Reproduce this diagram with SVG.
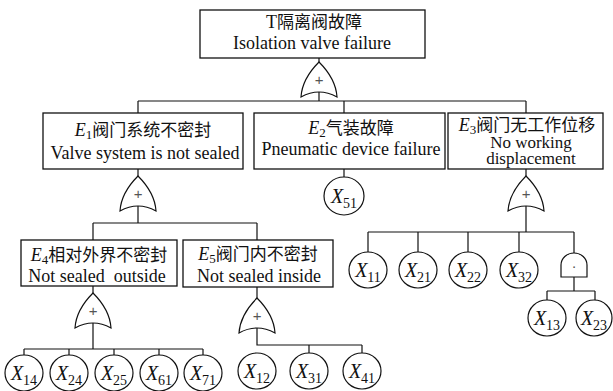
<svg xmlns="http://www.w3.org/2000/svg" xmlns:xlink="http://www.w3.org/1999/xlink" width="613" height="391" viewBox="0 0 613 391">
<style>
.box{fill:#fff;stroke:#111;stroke-width:1.3}
.gate{fill:#fff;stroke:#111;stroke-width:1.2}
.leaf{fill:#fff;stroke:#111;stroke-width:1.2}
.conn{fill:none;stroke:#111;stroke-width:1.2}
.t{font-family:"Liberation Serif","Noto Sans CJK SC",serif;font-size:18px;fill:#111;text-anchor:middle}
.t2{font-size:17px}
.cn{font-family:"Noto Sans CJK SC","Liberation Serif",sans-serif;font-size:17px}
.i{font-style:italic}
.sub{font-size:13px}
.x{font-family:"Liberation Serif",serif;font-size:20px;fill:#111;text-anchor:middle}
.xs{font-size:14px;font-style:normal}
.plus{font-family:"Liberation Sans",sans-serif;font-size:15px;fill:#555;text-anchor:middle}
</style>
<defs>
<g id="or">
<path class="gate" d="M-18,35 C-17,19 -8,8 0,0 C8,8 17,19 18,35 Q0,25 -18,35 Z"/>
<text class="plus" x="0" y="23">+</text>
</g>
</defs>
<rect width="613" height="391" fill="#fff"/>
<g id="connectors" class="conn">
<path d="M319,58 V62 M319,91 V101 M138,101 H526 M138,101 V113 M344,101 V113 M526,101 V113"/>
<path d="M138,169 V176 M138,206 V223 M93,223 H257 M93,223 V240 M257,223 V240"/>
<path d="M93,286 V293 M93,323 V349 M24,349 H203 M24,349 V355 M69,349 V355 M114,349 V355 M159,349 V355 M203,349 V355"/>
<path d="M257,287 V298 M257,328 V345 H362 M309,345 V353 M362,345 V353"/>
<path d="M344,169 V177"/>
<path d="M526,169 V176 M526,206 V232 M368,232 H574 M368,232 V252 M418,232 V252 M468,232 V252 M519,232 V252 M574,232 V253"/>
<path d="M574,277 V291 M547,291 H595 M547,291 V300 M595,291 V300"/>
</g>
<g id="T">
<rect class="box" x="200" y="10" width="225" height="48"/>
<text class="t" x="314" y="28">T<tspan class="cn">隔离阀故障</tspan></text>
<text class="t" x="312" y="49">Isolation valve failure</text>
</g>
<g id="G0"><use xlink:href="#or" x="319" y="62"/></g>
<g id="E1">
<rect class="box" x="43" y="113" width="200" height="56"/>
<text class="t" x="143" y="136"><tspan class="i">E</tspan><tspan class="sub" dy="3">1</tspan><tspan class="cn" dy="-3">阀门系统不密封</tspan></text>
<text class="t" x="145" y="159">Valve system is not sealed</text>
</g>
<g id="E2">
<rect class="box" x="254" y="113" width="191" height="56"/>
<text class="t" x="351" y="134"><tspan class="i">E</tspan><tspan class="sub" dy="3">2</tspan><tspan class="cn" dy="-3">气装故障</tspan></text>
<text class="t" x="351" y="155">Pneumatic device failure</text>
</g>
<g id="E3">
<rect class="box" x="448" y="113" width="155" height="56"/>
<text class="t" x="527" y="131"><tspan class="i">E</tspan><tspan class="sub" dy="3">3</tspan><tspan class="cn" dy="-3">阀门无工作位移</tspan></text>
<text class="t t2" x="531" y="148">No working</text>
<text class="t t2" x="531" y="164">displacement</text>
</g>
<g id="G1"><use xlink:href="#or" x="138" y="176"/></g>
<g id="G3"><use xlink:href="#or" x="526" y="176"/></g>
<g id="E4">
<rect class="box" x="21" y="240" width="156" height="46"/>
<text class="t" x="99" y="261"><tspan class="i">E</tspan><tspan class="sub" dy="3">4</tspan><tspan class="cn" dy="-3">相对外界不密封</tspan></text>
<text class="t" x="97" y="282" xml:space="preserve">Not sealed  outside</text>
</g>
<g id="E5">
<rect class="box" x="183" y="240" width="150" height="47"/>
<text class="t" x="258" y="260"><tspan class="i">E</tspan><tspan class="sub" dy="3">5</tspan><tspan class="cn" dy="-3">阀门内不密封</tspan></text>
<text class="t" x="259" y="282">Not sealed inside</text>
</g>
<g id="G4"><use xlink:href="#or" x="93" y="293"/></g>
<g id="G5"><use xlink:href="#or" x="257" y="298"/></g>
<g id="AND">
<path class="gate" d="M561,277 V265 A13,12 0 0 1 587,265 V277 Z"/>
<text class="plus" x="574" y="268">.</text>
</g>
<g id="X51"><ellipse class="leaf" cx="344" cy="196" rx="20" ry="19"/><text class="x i" x="344" y="203">X<tspan class="xs" dy="5">51</tspan></text></g>
<g id="X11"><ellipse class="leaf" cx="368" cy="270" rx="19" ry="18"/><text class="x i" x="368" y="277">X<tspan class="xs" dy="5">11</tspan></text></g>
<g id="X21"><ellipse class="leaf" cx="418" cy="270" rx="19" ry="18"/><text class="x i" x="418" y="277">X<tspan class="xs" dy="5">21</tspan></text></g>
<g id="X22"><ellipse class="leaf" cx="468" cy="270" rx="19" ry="18"/><text class="x i" x="468" y="277">X<tspan class="xs" dy="5">22</tspan></text></g>
<g id="X32"><ellipse class="leaf" cx="519" cy="270" rx="19" ry="18"/><text class="x i" x="519" y="277">X<tspan class="xs" dy="5">32</tspan></text></g>
<g id="X13"><ellipse class="leaf" cx="547" cy="318" rx="19" ry="18"/><text class="x i" x="547" y="325">X<tspan class="xs" dy="5">13</tspan></text></g>
<g id="X23"><ellipse class="leaf" cx="594" cy="318" rx="18" ry="18"/><text class="x i" x="594" y="325">X<tspan class="xs" dy="5">23</tspan></text></g>
<g id="X14"><ellipse class="leaf" cx="24" cy="373" rx="19" ry="18"/><text class="x i" x="24" y="380">X<tspan class="xs" dy="5">14</tspan></text></g>
<g id="X24"><ellipse class="leaf" cx="69" cy="373" rx="19" ry="18"/><text class="x i" x="69" y="380">X<tspan class="xs" dy="5">24</tspan></text></g>
<g id="X25"><ellipse class="leaf" cx="114" cy="373" rx="19" ry="18"/><text class="x i" x="114" y="380">X<tspan class="xs" dy="5">25</tspan></text></g>
<g id="X61"><ellipse class="leaf" cx="159" cy="373" rx="19" ry="18"/><text class="x i" x="159" y="380">X<tspan class="xs" dy="5">61</tspan></text></g>
<g id="X71"><ellipse class="leaf" cx="203" cy="373" rx="19" ry="18"/><text class="x i" x="203" y="380">X<tspan class="xs" dy="5">71</tspan></text></g>
<g id="X12"><ellipse class="leaf" cx="257" cy="371" rx="19" ry="18"/><text class="x i" x="257" y="378">X<tspan class="xs" dy="5">12</tspan></text></g>
<g id="X31"><ellipse class="leaf" cx="309" cy="371" rx="19" ry="18"/><text class="x i" x="309" y="378">X<tspan class="xs" dy="5">31</tspan></text></g>
<g id="X41"><ellipse class="leaf" cx="362" cy="371" rx="19" ry="18"/><text class="x i" x="362" y="378">X<tspan class="xs" dy="5">41</tspan></text></g>
</svg>
